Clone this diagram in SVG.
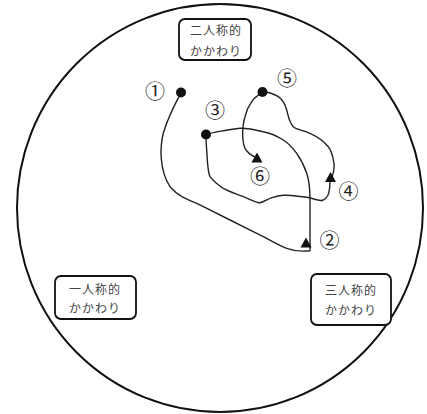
<svg xmlns="http://www.w3.org/2000/svg" width="427" height="414" viewBox="0 0 427 414">
<style>
.box{fill:#fff;stroke:#111;stroke-width:1.8}
.bt{font-family:"Noto Sans CJK JP","Noto Sans CJK SC",sans-serif;font-size:12px;fill:#444;text-anchor:middle;letter-spacing:1px}
.num{font-family:"Noto Sans CJK JP","DejaVu Sans",sans-serif;font-size:20px;fill:#222;text-anchor:middle}
.ln{fill:none;stroke:#222;stroke-width:1.4;stroke-linecap:round;stroke-linejoin:round}
.dot{fill:#111}
.tri{fill:#111}
</style>
<rect width="427" height="414" fill="#fff"/>
<ellipse cx="220" cy="208" rx="203" ry="204" fill="none" stroke="#111" stroke-width="2"/>
<g id="node-second">
<rect class="box" x="179" y="19" width="72" height="41" rx="6"/>
<text class="bt" x="216" y="35">二人称的</text>
<text class="bt" x="216" y="56">かかわり</text>
</g>
<g id="node-first">
<rect class="box" x="55" y="276" width="81" height="43" rx="6"/>
<text class="bt" x="95" y="294">一人称的</text>
<text class="bt" x="95" y="313">かかわり</text>
</g>
<g id="node-third">
<rect class="box" x="311" y="274" width="80" height="51" rx="6"/>
<text class="bt" x="351" y="295">三人称的</text>
<text class="bt" x="351" y="315">かかわり</text>
</g>
<g id="connectors">
<path class="ln" d="M180.7,93.3 C176,102 167,120 163.3,133.3 C160,146 159,170 170,186.7 C178,196 186,199 196.7,203.3 C208,209 220,215 230,220 C242,226 252,231 263.3,236.7 C272,241 280,246 286.7,248.3 C294,251 303,251.5 310,250.7 L310,244"/>
<path class="ln" d="M310,244 C310,232 310,212 310,200 C310,190 309,180 306.7,173.3 C304,165 300,158 296.7,153.3 C292,147 288,143 283.3,140 C277,136 270,133 263.3,131.7 C256,130 247,128 240,128.3 C233,129 228,130 223.3,130.7 C216,132 210,133 206,135"/>
<path class="ln" d="M206,135 C206,145 207,152 207.3,160 C208,167 208,172 210,176.7 C214,182 218,185 223.3,188.3 C230,192 237,194 243.3,196.7 C250,199 255,203 260,202.7 C264,202 267,199.5 270,198.3 C274,197 278,195.5 283.3,195.3 C291,195 299,196.5 306.7,197.3 C313,198 319,202 323.3,200 C327,198 329,194 329.3,190 C330,186 330,182 330,178"/>
<path class="ln" d="M331,180 C333,174 335,169 334,163.3 C333,157 332,151 328.3,146.7 C323,140 316,136 310,133.3 C303,130 297,130 293.3,126.7 C289,122 288,115 286.7,110 C285,104 282,99 278.3,96.7 C274,94 268,92 263.3,91.7"/>
<path class="ln" d="M262.7,92.3 C258,95 254,98 251.7,101.7 C248,107 246,112 245,116.7 C243,123 242.5,130 242.7,136.7 C243,141 243.5,145 245,148.3 C247,152 251,155 255,157"/>
</g>
<g id="markers">
<circle class="dot" cx="181" cy="92.5" r="5"/>
<circle class="dot" cx="206" cy="134.5" r="5"/>
<circle class="dot" cx="262.5" cy="92" r="5"/>
<polygon class="tri" points="306,237.5 311.5,247.5 300.5,247.5"/>
<polygon class="tri" points="330.5,172 336,182 325,182"/>
<polygon class="tri" points="257,152.5 262.5,162.5 251.5,162.5"/>
</g>
<g id="labels">
<text class="num" x="155" y="98.5">①</text>
<text class="num" x="329.5" y="247.5">②</text>
<text class="num" x="215" y="118">③</text>
<text class="num" x="348.5" y="199">④</text>
<text class="num" x="287" y="85.5">⑤</text>
<text class="num" x="260" y="184">⑥</text>
</g>
</svg>
